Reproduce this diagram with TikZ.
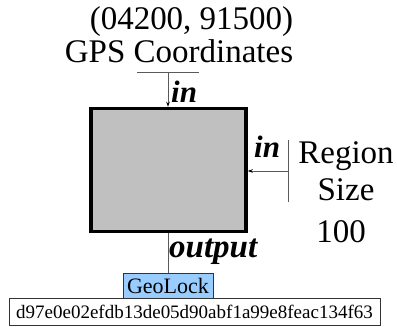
\documentclass[tikz,border=0pt]{standalone}
\usepackage{fontspec}
\setmainfont{Liberation Serif}
\usetikzlibrary{arrows.meta}
\definecolor{boxgray}{RGB}{192,192,192}
\definecolor{wiregray}{RGB}{90,90,90}
\definecolor{lockblue}{RGB}{153,204,255}
\begin{document}
\begin{tikzpicture}[x=1pt,y=-1pt,
  wire/.style={draw=wiregray, line width=0.9pt},
  arr/.style={wire,-{Stealth[length=5pt,width=3.5pt,black]}},
  lbl/.style={inner sep=0pt, font=\fontsize{33}{36}\selectfont},
  portlbl/.style={inner sep=0pt, font=\fontsize{31}{34}\selectfont\bfseries\itshape},
  smallbox/.style={draw=black!80, line width=0.7pt, inner sep=0pt},
  ]
\useasboundingbox (0,0) rectangle (397,327);
% main block
\node[draw=black, line width=3.5pt, fill=boxgray, minimum width=155pt, minimum height=123pt, inner sep=0pt] (blk) at (168.5,170) {};
% texts
\node[lbl, anchor=base] (coord) at (191.5,29) {(04200, 91500)};
\node[lbl, anchor=base] (gps) at (179,62) {GPS Coordinates};
\node[lbl, anchor=base] (region) at (346,163) {Region};
\node[lbl, anchor=base] (size) at (346,200) {Size};
\node[lbl, anchor=base] (hundred) at (341,242) {100};
% port labels
\node[portlbl, anchor=base west] (intop) at (171,102) {in};
\node[portlbl, anchor=base west] (inright) at (254,157) {in};
\node[portlbl, font=\fontsize{33}{36}\selectfont\bfseries\itshape, anchor=base west] (outlbl) at (169,257) {output};
% top input port
\coordinate (tl) at (137,72);
\coordinate (tr) at (199,72);
\coordinate (tm) at (168,72);
\draw[wire] (tl) -- (tr);
\draw[arr] (tm) -- (tm |- blk.north);
% right input port
\coordinate (rt) at (288,140);
\coordinate (rb) at (288,202);
\coordinate (rm) at (288,171);
\draw[wire] (rt) -- (rb);
\draw[arr] (rm) -- (rm -| blk.east);
% output
\node[smallbox, fill=lockblue, minimum width=90pt, minimum height=25pt, font=\fontsize{22}{24}\selectfont] (geo) at (168,285.5) {GeoLock};
\node[smallbox, fill=white, minimum width=371pt, minimum height=27pt, font=\fontsize{19}{21}\selectfont] (hash) at (194.5,311.5) {d97e0e02efdb13de05d90abf1a99e8feac134f63};
\draw[wire] (blk.south -| geo.north) -- (geo.north);
\end{tikzpicture}
\end{document}
